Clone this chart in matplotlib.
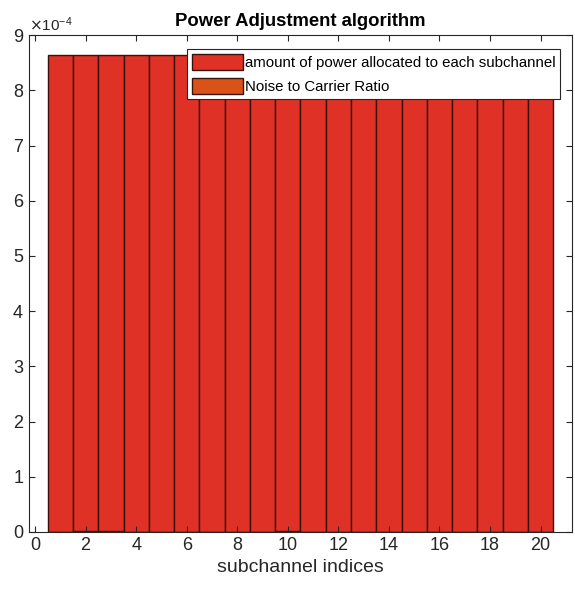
"""Water-filling power allocation, stacked on the noise floor"""

import matplotlib.pyplot as plt
import numpy as np
from matplotlib.ticker import ScalarFormatter

plt.rcParams["font.family"] = ["Liberation Sans", "DejaVu Sans"]

subchannels = np.arange(1, 21)
# power given to each subchannel (W)
power = [8.65e-4] * 20
# noise to carrier ratio per subchannel, almost invisible next to the power
ncr = [0.5e-6, 2.5e-6, 2.5e-6, 0.5e-6, 0.5e-6, 0.5e-6, 0.5e-6, 0.5e-6, 0.5e-6, 2.0e-6,
       0.5e-6, 0.5e-6, 0.5e-6, 0.5e-6, 0.5e-6, 0.5e-6, 0.5e-6, 0.5e-6, 0.5e-6, 0.5e-6]

red = "#df3125"
orange = "#d95319"
grey = "#262626"

fig = plt.figure(figsize=(5.75, 5.97), dpi=100)
ax = fig.add_axes([0.050, 0.109, 0.945, 0.832])

ax.bar(subchannels, power, width=1.0, color=red, edgecolor="#3a120c", linewidth=1.0,
       label="amount of power allocated to each subchannel")
ax.bar(subchannels, ncr, width=1.0, color=orange, edgecolor="#3a120c", linewidth=1.0,
       label="Noise to Carrier Ratio")

ax.set_xlim(-0.25, 21.25)
ax.set_ylim(0, 9e-4)
ax.set_xticks(np.arange(0, 21, 2))
ax.set_yticks(np.arange(0, 10) * 1e-4)

fmt = ScalarFormatter(useMathText=True)
fmt.set_powerlimits((-3, 3))
ax.yaxis.set_major_formatter(fmt)
ax.yaxis.get_offset_text().set_fontsize(11)
ax.yaxis.get_offset_text().set_color(grey)

ax.tick_params(direction="in", top=True, right=True, labelsize=13, colors=grey,
               length=4, width=0.8)
for s in ax.spines.values():
    s.set_color(grey)
    s.set_linewidth(0.8)

ax.set_xlabel("subchannel indices", fontsize=14, color=grey, labelpad=4)
ax.set_title("Power Adjustment algorithm", fontsize=13.3, fontweight="bold", pad=7)

leg = ax.legend(loc="upper right", bbox_to_anchor=(0.978, 0.972), fontsize=10.8,
                fancybox=False, framealpha=1, edgecolor=grey, borderpad=0.32,
                handlelength=3.4, handleheight=1.25, handletextpad=0.12,
                labelspacing=0.55, borderaxespad=0)
leg.get_frame().set_linewidth(0.8)

fig.savefig("out.png", dpi=100)
